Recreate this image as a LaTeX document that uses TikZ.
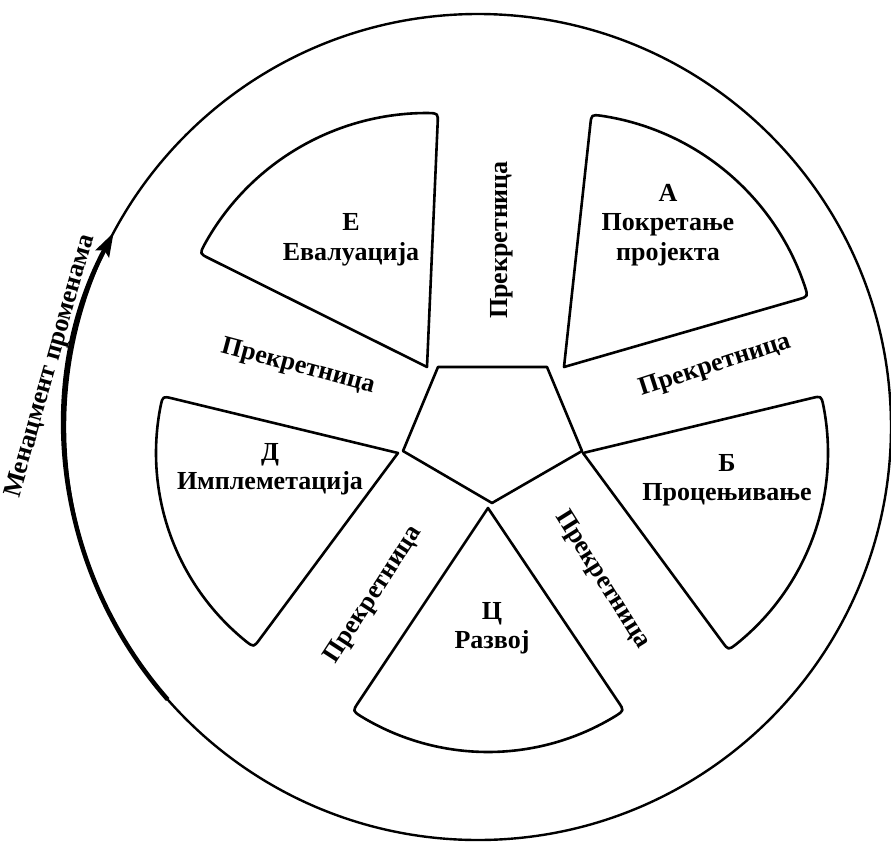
\documentclass[tikz,border=0pt]{standalone}
\usepackage{fontspec}
\setmainfont{Liberation Serif}
\usetikzlibrary{arrows.meta}

\tikzset{
  phase/.style={line width=2.6pt, line join=round},
  phasetext/.style={font=\bfseries\fontsize{26}{29.5}\selectfont, align=center},
  milestone/.style={font=\bfseries\fontsize{26}{30}\selectfont}
}

\begin{document}
\begin{tikzpicture}[x=1pt, y=-1pt]
\useasboundingbox (0,0) rectangle (891,841);

% Outer circle
\coordinate (O) at (478,427);
\draw[line width=2.4pt] (O) circle[radius=413];

% Change management arrow along the circle (angles are negative: y points down)
\draw[line width=4.5pt, -{Stealth[length=24pt,width=15pt,inset=4pt]}]
  ([shift={(-221.3:413)}]O) arc[start angle=-221.3, end angle=-151.9, radius=413];
\node[milestone, rotate=74] (change) at (51,366) {Менацмент променама};

% Central pentagon
\coordinate (p1) at (438,367);
\coordinate (p2) at (547,367);
\coordinate (p3) at (582,451);
\coordinate (p4) at (492,503);
\coordinate (p5) at (403,451);
\draw[phase] (p1) -- (p2) -- (p3) -- (p4) -- (p5) -- cycle;

% Apexes of the five phases
\coordinate (apexA) at (564,367);
\coordinate (apexB) at (583,453);
\coordinate (apexC) at (488,508);
\coordinate (apexD) at (398,453);
\coordinate (apexE) at (427,367);

% Phase A
\draw[phase, shift={(apexA)}] (-83.8:244) .. controls (-83.8:254) .. (-81.5:254)
  arc[start angle=-81.5, end angle=-18.4, radius=254] .. controls (-16.1:254) .. (-16.1:244) -- (0,0) -- cycle;
% Phase B
\draw[phase, shift={(apexB)}] (-13.5:235) .. controls (-13.5:245) .. (-11.2:245)
  arc[start angle=-11.2, end angle=51.3, radius=245] .. controls (53.6:245) .. (53.6:235) -- (0,0) -- cycle;
% Phase C
\draw[phase, shift={(apexC)}] (-303.9:234) .. controls (-303.9:244) .. (-301.6:244)
  arc[start angle=-301.6, end angle=-238.6, radius=244] .. controls (-236.3:244) .. (-236.3:234) -- (0,0) -- cycle;
% Phase D
\draw[phase, shift={(apexD)}] (-233.4:232) .. controls (-233.4:242) .. (-231.1:242)
  arc[start angle=-231.1, end angle=-168.7, radius=242] .. controls (-166.4:242) .. (-166.4:232) -- (0,0) -- cycle;
% Phase E
\draw[phase, shift={(apexE)}] (-153.5:244) .. controls (-153.5:254) .. (-151.2:254)
  arc[start angle=-151.2, end angle=-89.8, radius=254] .. controls (-87.5:254) .. (-87.5:244) -- (0,0) -- cycle;

% Phase names
\node[phasetext] (nameA) at (668,225) {А\\Покретање\\пројекта};
\node[phasetext] (nameB) at (727,480) {Б\\Процењивање};
\node[phasetext] (nameC) at (492,628) {Ц\\Развој};
\node[phasetext] (nameD) at (270,469) {Д\\Имплеметација};
\node[phasetext] (nameE) at (351,240) {Е\\Евалуација};

% Milestones between the phases
\node[milestone, rotate=90]  (mileEA) at (502,240) {Прекретница};
\node[milestone, rotate=18]  (mileAB) at (715,366) {Прекретница};
\node[milestone, rotate=-58] (mileBC) at (602,580) {Прекретница};
\node[milestone, rotate=57]  (mileCD) at (374,595) {Прекретница};
\node[milestone, rotate=-15] (mileDE) at (298,367) {Прекретница};
\end{tikzpicture}
\end{document}
